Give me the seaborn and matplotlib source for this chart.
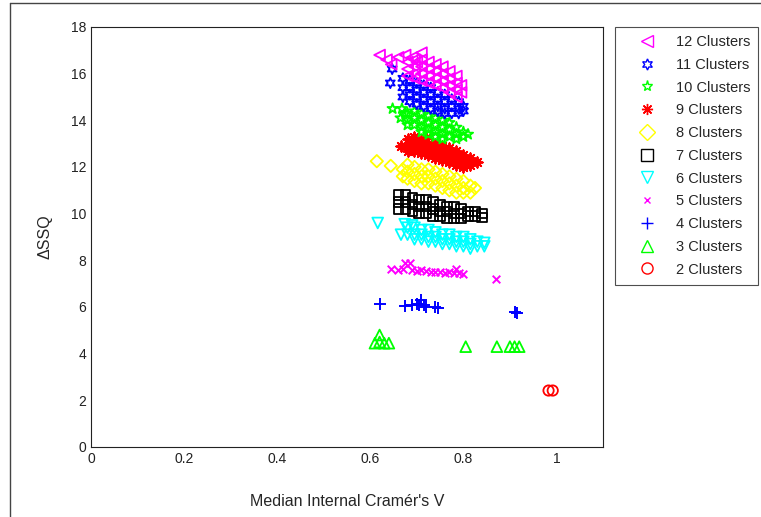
import matplotlib
matplotlib.use("Agg")
import matplotlib.pyplot as plt
from matplotlib.lines import Line2D
import pandas as pd
import seaborn as sns

# ---- data (Median Internal Cramer's V, delta SSQ) ----
c12_x = [0.62, 0.635, 0.645, 0.66, 0.675, 0.69, 0.70, 0.71,
         0.68, 0.68, 0.68, 0.695, 0.695, 0.695, 0.695, 0.71, 0.71, 0.71, 0.71,
         0.725, 0.725, 0.725, 0.725, 0.74, 0.74, 0.74, 0.74, 0.755, 0.755, 0.755, 0.755,
         0.77, 0.77, 0.77, 0.77, 0.785, 0.785, 0.785, 0.785, 0.795, 0.795]
c12_y = [16.8, 16.6, 16.4, 16.7, 16.8, 16.7, 16.5, 16.9,
         16.5, 16.2, 15.9, 16.6, 16.3, 16.0, 15.8, 16.6, 16.3, 16.0, 15.7,
         16.5, 16.2, 15.9, 15.6, 16.4, 16.1, 15.8, 15.5, 16.3, 16.0, 15.7, 15.4,
         16.1, 15.8, 15.5, 15.2, 15.9, 15.6, 15.3, 15.0, 15.5, 15.2]

c11_x = [0.647, 0.643,
         0.67, 0.67, 0.67, 0.685, 0.685, 0.685, 0.685, 0.70, 0.70, 0.70, 0.70,
         0.715, 0.715, 0.715, 0.715, 0.73, 0.73, 0.73, 0.73, 0.745, 0.745, 0.745, 0.745,
         0.76, 0.76, 0.76, 0.76, 0.775, 0.775, 0.775, 0.79, 0.79, 0.79, 0.80, 0.80]
c11_y = [16.2, 15.6,
         15.8, 15.4, 15.0, 15.7, 15.4, 15.1, 14.8, 15.6, 15.3, 15.0, 14.7,
         15.5, 15.2, 14.9, 14.6, 15.4, 15.1, 14.8, 14.5, 15.2, 14.9, 14.6, 14.4,
         15.1, 14.8, 14.5, 14.3, 14.9, 14.6, 14.3, 14.8, 14.5, 14.3, 14.6, 14.4]

c10_x = [0.648, 0.668, 0.665, 0.675,
         0.68, 0.68, 0.68, 0.695, 0.695, 0.695, 0.71, 0.71, 0.71, 0.71,
         0.725, 0.725, 0.725, 0.725, 0.74, 0.74, 0.74, 0.74, 0.755, 0.755, 0.755, 0.755,
         0.77, 0.77, 0.77, 0.785, 0.785, 0.785, 0.80, 0.80, 0.81]
c10_y = [14.5, 14.5, 14.1, 14.3,
         14.3, 14.0, 13.8, 14.4, 14.1, 13.8, 14.3, 14.0, 13.7, 13.5,
         14.2, 13.9, 13.6, 13.4, 14.1, 13.8, 13.5, 13.3, 14.0, 13.7, 13.4, 13.2,
         13.9, 13.6, 13.3, 13.7, 13.4, 13.2, 13.5, 13.3, 13.4]

c9_x = [0.665, 0.695, 0.72,
        0.68, 0.68, 0.68, 0.695, 0.695, 0.71, 0.71, 0.71, 0.725, 0.725, 0.725,
        0.74, 0.74, 0.74, 0.755, 0.755, 0.755, 0.77, 0.77, 0.77, 0.785, 0.785, 0.785,
        0.80, 0.80, 0.80, 0.815, 0.815, 0.83]
c9_y = [12.9, 13.3, 13.25,
        13.2, 12.9, 12.7, 13.0, 12.7, 13.1, 12.8, 12.6, 13.0, 12.7, 12.5,
        13.0, 12.7, 12.4, 12.9, 12.6, 12.3, 12.8, 12.5, 12.2, 12.7, 12.4, 12.1,
        12.5, 12.2, 12.0, 12.4, 12.1, 12.2]

c8_x = [0.614, 0.644,
        0.67, 0.67, 0.68, 0.68, 0.68, 0.695, 0.695, 0.695, 0.71, 0.71, 0.71,
        0.725, 0.725, 0.725, 0.74, 0.74, 0.74, 0.755, 0.755, 0.755, 0.77, 0.77, 0.77,
        0.785, 0.785, 0.785, 0.80, 0.80, 0.80, 0.815, 0.815, 0.825]
c8_y = [12.25, 12.05,
        11.9, 11.6, 12.1, 11.8, 11.5, 12.0, 11.7, 11.4, 11.9, 11.6, 11.3,
        11.9, 11.6, 11.3, 11.8, 11.5, 11.2, 11.7, 11.4, 11.1, 11.6, 11.3, 11.0,
        11.5, 11.2, 10.9, 11.4, 11.1, 10.9, 11.2, 10.9, 11.1]

c7_x = [0.66, 0.66, 0.66, 0.675, 0.675, 0.675, 0.69, 0.69, 0.69, 0.705, 0.705, 0.705,
        0.72, 0.72, 0.72, 0.735, 0.735, 0.735, 0.75, 0.75, 0.75, 0.765, 0.765, 0.765,
        0.78, 0.78, 0.78, 0.795, 0.795, 0.795, 0.81, 0.81, 0.825, 0.825, 0.84, 0.84]
c7_y = [10.8, 10.5, 10.2, 10.8, 10.5, 10.2, 10.7, 10.4, 10.1, 10.6, 10.3, 10.0,
        10.6, 10.3, 10.0, 10.5, 10.2, 9.9, 10.4, 10.1, 9.9, 10.3, 10.1, 9.8,
        10.3, 10.0, 9.8, 10.2, 10.0, 9.8, 10.1, 9.9, 10.1, 9.9, 10.0, 9.85]

c6_x = [0.616, 0.666, 0.674, 0.69,
        0.68, 0.68, 0.695, 0.695, 0.695, 0.71, 0.71, 0.71, 0.725, 0.725, 0.725,
        0.74, 0.74, 0.74, 0.755, 0.755, 0.755, 0.77, 0.77, 0.77, 0.785, 0.785, 0.785,
        0.80, 0.80, 0.80, 0.815, 0.815, 0.815, 0.83, 0.83, 0.845, 0.845]
c6_y = [9.6, 9.1, 9.55, 9.5,
        9.4, 9.1, 9.4, 9.1, 8.9, 9.3, 9.1, 8.9, 9.3, 9.0, 8.8,
        9.2, 9.0, 8.8, 9.1, 8.9, 8.7, 9.1, 8.9, 8.7, 9.0, 8.8, 8.6,
        9.0, 8.8, 8.6, 8.9, 8.7, 8.5, 8.8, 8.6, 8.75, 8.6]

c5_x = [0.645, 0.66, 0.67, 0.675, 0.685, 0.69, 0.70, 0.71, 0.72, 0.73, 0.74,
        0.75, 0.76, 0.77, 0.78, 0.785, 0.79, 0.80, 0.87]
c5_y = [7.65, 7.6, 7.65, 7.9, 7.9, 7.6, 7.55, 7.6, 7.55, 7.5, 7.5,
        7.5, 7.45, 7.5, 7.45, 7.65, 7.45, 7.4, 7.2]

c4_x = [0.62, 0.675, 0.69, 0.70, 0.705, 0.71, 0.715, 0.72, 0.74, 0.745, 0.91, 0.915]
c4_y = [6.15, 6.05, 6.1, 6.15, 6.1, 6.3, 6.1, 6.0, 6.0, 5.95, 5.8, 5.75]

c3_x = [0.62, 0.61, 0.62, 0.63, 0.64, 0.805, 0.872, 0.90, 0.91, 0.92]
c3_y = [4.8, 4.45, 4.5, 4.45, 4.45, 4.3, 4.3, 4.3, 4.3, 4.3]

c2_x = [0.983, 0.992]
c2_y = [2.42, 2.42]

labels = ["12 Clusters", "11 Clusters", "10 Clusters", "9 Clusters", "8 Clusters",
          "7 Clusters", "6 Clusters", "5 Clusters", "4 Clusters", "3 Clusters", "2 Clusters"]
xs = [c12_x, c11_x, c10_x, c9_x, c8_x, c7_x, c6_x, c5_x, c4_x, c3_x, c2_x]
ys = [c12_y, c11_y, c10_y, c9_y, c8_y, c7_y, c6_y, c5_y, c4_y, c3_y, c2_y]
colors = ["#ff00ff", "#0000ff", "#00ff00", "#ff0000", "#ffff00", "#000000",
          "#00ffff", "#ff00ff", "#0000ff", "#00ff00", "#ff0000"]
markers = ["<", (6, 1, 0), "*", (8, 2, 0), "D", "s", "v", "x", "+", "^", "o"]
sizes = [60, 55, 60, 55, 40, 45, 60, 30, 70, 60, 55]

df = pd.concat([pd.DataFrame({"v": x, "ssq": y, "k": lab})
                for x, y, lab in zip(xs, ys, labels)], ignore_index=True)

sns.set_style("white")
plt.rcParams["font.family"] = ["Liberation Sans", "DejaVu Sans"]

fig = plt.figure(figsize=(7.61, 5.17), dpi=100)
ax = fig.add_axes([91 / 761, 1 - 447 / 517, 512 / 761, 420 / 517])

# draw from 2 clusters up to 12 so the higher ones sit on top like the original
for lab, c, m, s in reversed(list(zip(labels, colors, markers, sizes))):
    sub = df[df["k"] == lab]
    filled = m not in ["x", "+", (8, 2, 0)]
    if filled:
        sns.scatterplot(data=sub, x="v", y="ssq", ax=ax, marker=m, s=s, color=c,
                        facecolor="none", edgecolor=c, linewidth=1.3)
    else:
        sns.scatterplot(data=sub, x="v", y="ssq", ax=ax, marker=m, s=s, color=c,
                        linewidth=1.4)

ax.set_xlim(0, 1.1)
ax.set_ylim(0, 18)
ax.set_xticks([0, 0.2, 0.4, 0.6, 0.8, 1])
ax.set_xticklabels(["0", "0.2", "0.4", "0.6", "0.8", "1"])
ax.set_yticks(range(0, 19, 2))
ax.tick_params(direction="in", length=4, width=0.8, labelsize=10, colors="#222222",
               top=False, right=False)
for sp in ax.spines.values():
    sp.set_color("#222222")
    sp.set_linewidth(0.8)
ax.set_xlabel("Median Internal Cramér's V", fontsize=11.5, labelpad=20)
ax.set_ylabel("ΔSSQ", fontsize=11.5, labelpad=13)

handles = [Line2D([], [], linestyle="", marker=m, color=c, markerfacecolor="none",
                  markeredgecolor=c, markersize=8 if m not in ["x"] else 5)
           for c, m in zip(colors, markers)]
leg = fig.legend(handles, labels, loc="upper left",
                 bbox_to_anchor=(615 / 761, 1 - 27 / 517), borderaxespad=0,
                 fontsize=10.5, frameon=True, fancybox=False, edgecolor="#222222",
                 labelspacing=0.6, handletextpad=0.25, borderpad=0.55,
                 handlelength=3.35)
leg.get_frame().set_linewidth(0.8)

# outer figure frame visible at left/top in the reference
fig.add_artist(Line2D([10 / 761, 10 / 761], [0, 1 - 3 / 517], color="#444444", lw=1.0))
fig.add_artist(Line2D([10 / 761, 1], [1 - 3 / 517, 1 - 3 / 517], color="#444444", lw=1.0))

fig.savefig("out.png", dpi=100)
